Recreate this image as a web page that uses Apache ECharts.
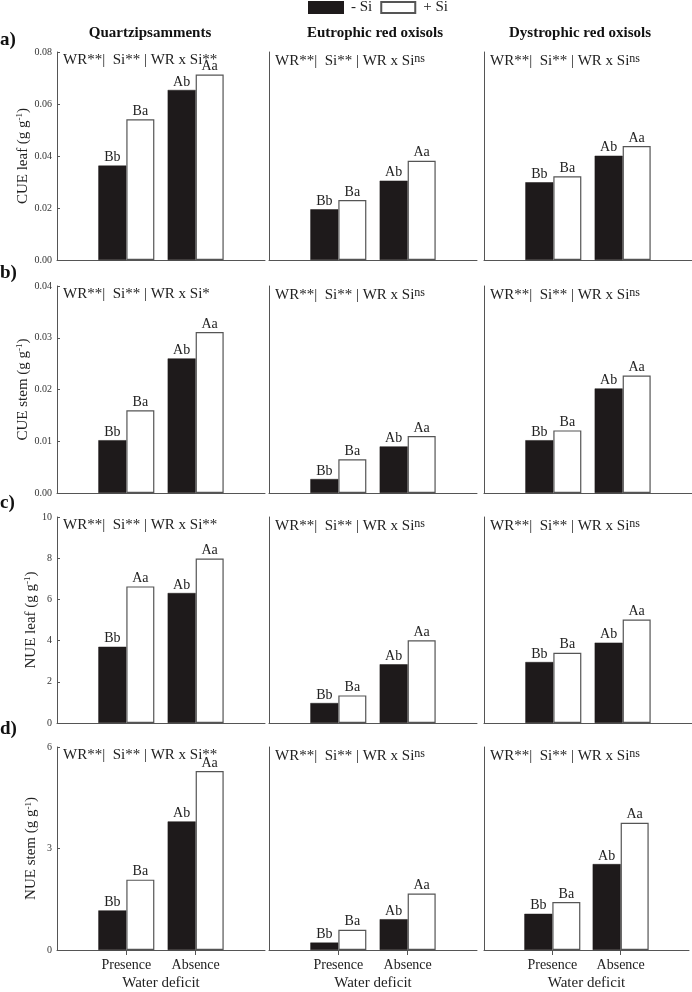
<!DOCTYPE html>
<html>
<head>
<meta charset="utf-8">
<script src="https://cdn.jsdelivr.net/npm/echarts@6/dist/echarts.min.js"></script>
<style>html,body{margin:0;padding:0;background:#fff;}#c{width:692px;height:992px;}</style>
</head>
<body>
<div id="c"></div>
<script>
// ---------------- DATA ----------------
const soils = ['Quartzipsamments', 'Eutrophic red oxisols', 'Dystrophic red oxisols'];
const waterDeficit = ['Presence', 'Absence'];
const seriesNames = ['- Si', '+ Si'];
const panelLetters = ['a)', 'b)', 'c)', 'd)'];
const yNames = ['CUE leaf', 'CUE stem', 'NUE leaf', 'NUE stem'];
const yMax = [0.08, 0.04, 10, 6];
const yInterval = [0.02, 0.01, 2, 3];
const yDecimals = [2, 2, 0, 0];

// values per soil: [Presence, Absence]
const cueLeafMinusSi = [[0.0363, 0.0654], [0.0195, 0.0305], [0.0299, 0.0401]];
const cueLeafPlusSi  = [[0.0541, 0.0713], [0.0231, 0.0382], [0.0322, 0.0438]];
const cueStemMinusSi = [[0.0102, 0.0260], [0.0027, 0.0090], [0.0102, 0.0202]];
const cueStemPlusSi  = [[0.0160, 0.0311], [0.0065, 0.0110], [0.0121, 0.0227]];
const nueLeafMinusSi = [[3.70, 6.31], [0.97, 2.85], [2.96, 3.90]];
const nueLeafPlusSi  = [[6.63, 7.98], [1.34, 4.02], [3.41, 5.02]];
const nueStemMinusSi = [[1.17, 3.80], [0.22, 0.91], [1.07, 2.54]];
const nueStemPlusSi  = [[2.08, 5.29], [0.60, 1.67], [1.42, 3.76]];

// letters per soil: [Presence, Absence]
const cueLeafLettersMinus = [['Bb', 'Ab'], ['Bb', 'Ab'], ['Bb', 'Ab']];
const cueLeafLettersPlus  = [['Ba', 'Aa'], ['Ba', 'Aa'], ['Ba', 'Aa']];
const cueStemLettersMinus = [['Bb', 'Ab'], ['Bb', 'Ab'], ['Bb', 'Ab']];
const cueStemLettersPlus  = [['Ba', 'Aa'], ['Ba', 'Aa'], ['Ba', 'Aa']];
const nueLeafLettersMinus = [['Bb', 'Ab'], ['Bb', 'Ab'], ['Bb', 'Ab']];
const nueLeafLettersPlus  = [['Aa', 'Aa'], ['Ba', 'Aa'], ['Ba', 'Aa']];
const nueStemLettersMinus = [['Bb', 'Ab'], ['Bb', 'Ab'], ['Bb', 'Ab']];
const nueStemLettersPlus  = [['Ba', 'Aa'], ['Ba', 'Aa'], ['Ba', 'Aa']];

// interaction significance per soil
const cueLeafInteraction = ['**', 'ns', 'ns'];
const cueStemInteraction = ['*', 'ns', 'ns'];
const nueLeafInteraction = ['**', 'ns', 'ns'];
const nueStemInteraction = ['**', 'ns', 'ns'];

const rowsMinus = [cueLeafMinusSi, cueStemMinusSi, nueLeafMinusSi, nueStemMinusSi];
const rowsPlus = [cueLeafPlusSi, cueStemPlusSi, nueLeafPlusSi, nueStemPlusSi];
const lettersMinus = [cueLeafLettersMinus, cueStemLettersMinus, nueLeafLettersMinus, nueStemLettersMinus];
const lettersPlus = [cueLeafLettersPlus, cueStemLettersPlus, nueLeafLettersPlus, nueStemLettersPlus];
const interactions = [cueLeafInteraction, cueStemInteraction, nueLeafInteraction, nueStemInteraction];

// ---------------- LAYOUT ----------------
const FONT = '"Liberation Serif", "Times New Roman", serif';
const rowTop = [52, 286, 517, 747];
const rowBottom = [260, 493, 723, 953];
const colLeft = [57, 269, 484];
const panelW = 208;
const panelLabelY = [42, 275, 505, 731];
const AXIS = '#555';
const BLACK = '#1e1a1b';

const chart = echarts.init(document.getElementById('c'), null, {renderer: 'canvas'});
const grid = [], xAxis = [], yAxis = [], series = [], graphic = [];
const cats = ['', waterDeficit[0], waterDeficit[1], ''];

for (let r = 0; r < 4; r++) {
  for (let c = 0; c < 3; c++) {
    const gi = grid.length;
    grid.push({left: colLeft[c], top: rowTop[r], width: panelW, height: rowBottom[r] - rowTop[r], containLabel: false});
    const last = r === 3;
    xAxis.push({
      gridIndex: gi, type: 'category', data: cats, boundaryGap: false,
      axisLine: {show: true, lineStyle: {color: AXIS, width: 1}},
      axisTick: {show: last, length: 5, inside: false, interval: (i) => i === 1 || i === 2, lineStyle: {color: AXIS}},
      axisLabel: {show: last, interval: 0, margin: 8, color: '#222', fontFamily: FONT, fontSize: 14},
      name: last ? 'Water deficit' : '', nameLocation: 'middle', nameGap: 26,
      nameTextStyle: {color: '#222', fontFamily: FONT, fontSize: 15},
      splitLine: {show: false}
    });
    yAxis.push({
      gridIndex: gi, type: 'value', min: 0, max: yMax[r], interval: yInterval[r],
      axisLine: {show: true, lineStyle: {color: AXIS, width: 1}},
      axisTick: {show: c === 0, inside: true, length: 3, lineStyle: {color: AXIS}},
      axisLabel: {show: c === 0, margin: 5, color: '#333', fontFamily: FONT, fontSize: 10,
        formatter: (v) => v.toFixed(yDecimals[r])},
      splitLine: {show: false},
      name: c === 0 ? yNames[r] + ' (g g{sup|-1})' : '',
      nameLocation: 'middle', nameRotate: 90, nameGap: 18,
      nameTextStyle: {color: '#222', fontFamily: FONT, fontSize: 15,
        rich: {sup: {fontFamily: FONT, fontSize: 9, verticalAlign: 'top', color: '#222', padding: [0, 0, 6, 0]}}}
    });
    const mk = (vals) => [null, vals[0], vals[1], null];
    const lm = lettersMinus[r][c], lp = lettersPlus[r][c];
    series.push({
      name: seriesNames[0], type: 'bar', xAxisIndex: gi, yAxisIndex: gi,
      data: mk(rowsMinus[r][c]), barWidth: 28, barGap: '0%',
      itemStyle: {color: BLACK, borderColor: BLACK, borderWidth: 0.5},
      label: {show: true, position: 'top', distance: 1, color: '#222', fontFamily: FONT, fontSize: 14,
        formatter: (p) => lm[p.dataIndex - 1]},
      animation: false
    });
    series.push({
      name: seriesNames[1], type: 'bar', xAxisIndex: gi, yAxisIndex: gi,
      data: mk(rowsPlus[r][c]), barWidth: 28, barGap: '0%',
      itemStyle: {color: '#ffffff', borderColor: '#555', borderWidth: 1.2},
      label: {show: true, position: 'top', distance: 1, color: '#222', fontFamily: FONT, fontSize: 14,
        formatter: (p) => lp[p.dataIndex - 1]},
      animation: false
    });
    // annotation text
    const inter = interactions[r][c];
    const interText = inter === 'ns' ? '{sup|ns}' : inter;
    graphic.push({
      type: 'text', left: colLeft[c] + 6, top: rowTop[r] + 1, silent: true,
      style: {
        text: 'WR**|  Si** | WR x Si' + interText,
        font: '15px ' + FONT, fill: '#222',
        rich: {sup: {fontFamily: FONT, fontSize: 12, verticalAlign: 'top', fill: '#222', padding: [0, 0, 5, 0]}}
      }
    });
  }
  graphic.push({
    type: 'text', left: 0, top: panelLabelY[r] - 11, silent: true,
    style: {text: panelLetters[r], font: 'bold 19px ' + FONT, fill: '#111'}
  });
}
// column titles
const titleCenters = [150, 375, 580];
for (let c = 0; c < 3; c++) {
  graphic.push({
    type: 'text', x: titleCenters[c], y: 33, silent: true,
    style: {text: soils[c], font: 'bold 15px ' + FONT, fill: '#111', textAlign: 'center', textVerticalAlign: 'middle'}
  });
}

chart.setOption({
  animation: false,
  backgroundColor: '#fff',
  legend: {
    left: 308, top: 0, padding: 0, itemWidth: 34, itemHeight: 11, itemGap: 8, icon: 'rect',
    data: seriesNames, selectedMode: false,
    textStyle: {fontFamily: FONT, fontSize: 15, color: '#222', padding: [0, 0, 0, 3]}
  },
  grid, xAxis, yAxis, series, graphic
});
</script>
</body>
</html>
